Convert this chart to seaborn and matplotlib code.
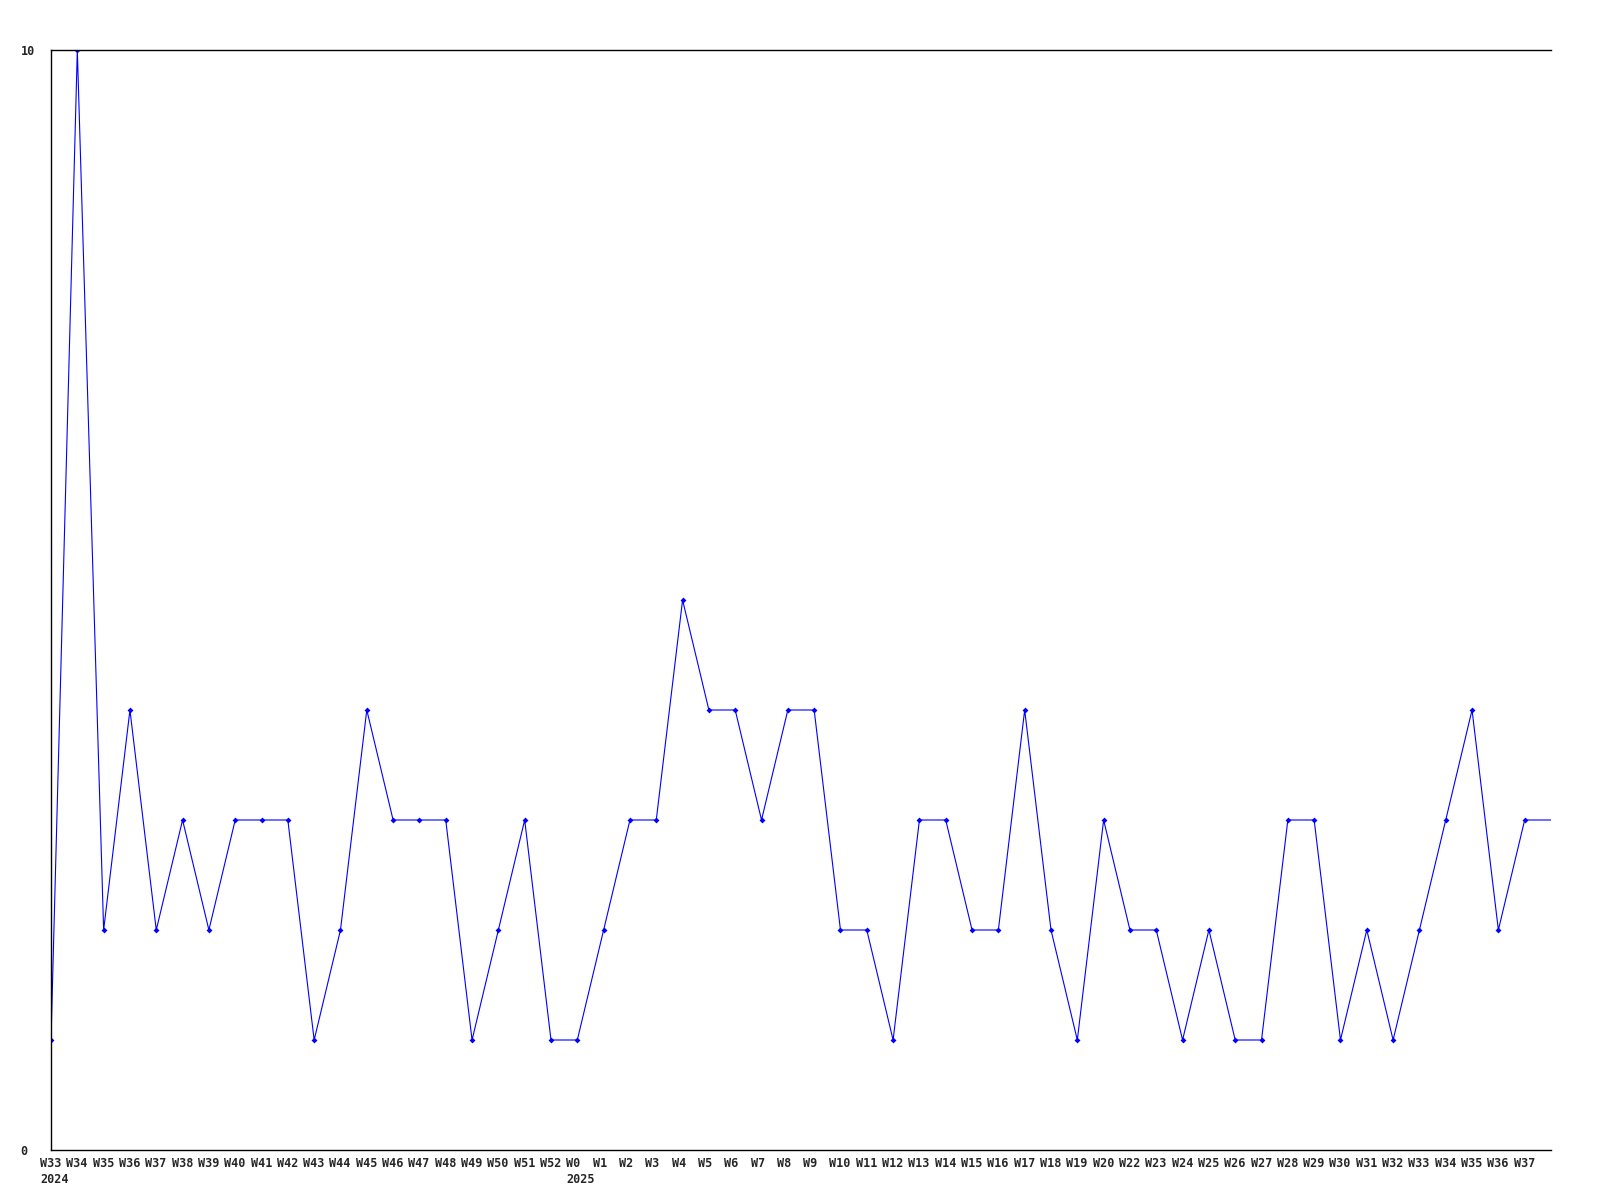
import matplotlib
matplotlib.use("Agg")
import matplotlib.pyplot as plt
import matplotlib.transforms as mtransforms
import seaborn as sns
import numpy as np

weeks = ["W33", "W34", "W35", "W36", "W37", "W38", "W39", "W40", "W41", "W42",
         "W43", "W44", "W45", "W46", "W47", "W48", "W49", "W50", "W51", "W52",
         "W0", "W1", "W2", "W3", "W4", "W5", "W6", "W7", "W8", "W9",
         "W10", "W11", "W12", "W13", "W14", "W15", "W16", "W17", "W18", "W19",
         "W20", "W22", "W23", "W24", "W25", "W26", "W27", "W28", "W29", "W30",
         "W31", "W32", "W33", "W34", "W35", "W36", "W37"]
counts = [1, 10, 2, 4, 2, 3, 2, 3, 3, 3,
          1, 2, 4, 3, 3, 3, 1, 2, 3, 1,
          1, 2, 3, 3, 5, 4, 4, 3, 4, 4,
          2, 2, 1, 3, 3, 2, 2, 4, 2, 1,
          3, 2, 2, 1, 2, 1, 1, 3, 3, 1,
          2, 1, 2, 3, 4, 2, 3]
# partial week after the last label (line only, no marker)
current_count = 3
year_marks = {"W33": "2024", "W0": "2025"}


def main():
    sns.set_style("white")
    plt.rcParams['font.family'] = ['DejaVu Sans Mono']

    fig = plt.figure(figsize=(16, 12), dpi=100)
    ax = fig.add_axes([51 / 1600, 50 / 1200, 1500 / 1600, 1100 / 1200])

    x = np.arange(len(counts))
    x_all = np.arange(len(counts) + 1)
    sns.lineplot(x=x_all, y=counts + [current_count], ax=ax, color="#0000ff",
                 linewidth=0.8, estimator=None, sort=False)
    sns.scatterplot(x=x, y=counts, ax=ax, color="#0000ff", marker="D",
                    s=9, linewidth=0)

    ax.set_xlim(0, len(counts))
    ax.set_ylim(0, 10)

    ax.set_yticks([0, 10])
    ax.set_yticklabels(["0", "10"], fontsize=8.5, fontweight="bold",
                       ha="left")
    ax.tick_params(axis="y", length=0, pad=22)

    labels = [w + ("\n" + year_marks[w] if w in year_marks and i in (0, 20) else "")
              for i, w in enumerate(weeks)]
    ax.set_xticks(x)
    ax.set_xticklabels(labels, fontsize=8.5, fontweight="bold", ha="left",
                       va="top", multialignment="left", linespacing=1.3)
    ax.tick_params(axis="x", length=0, pad=5)
    shift = mtransforms.ScaledTranslation(-11 / 100, 0, fig.dpi_scale_trans)
    for lab in ax.get_xticklabels():
        lab.set_transform(lab.get_transform() + shift)

    for side in ["left", "bottom", "top"]:
        ax.spines[side].set_visible(True)
        ax.spines[side].set_color("black")
        ax.spines[side].set_linewidth(1.0)
    ax.spines["right"].set_visible(False)
    ax.set_xlabel("")
    ax.set_ylabel("")

    fig.savefig("out.png", dpi=100)


if __name__ == '__main__':
    main()
